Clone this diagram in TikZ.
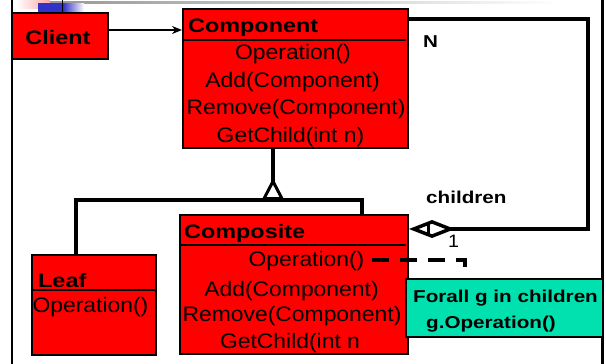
\documentclass[tikz,border=0pt]{standalone}
\usepackage{fontspec}
\setmainfont{Liberation Sans}
\newfontfamily\opfont[FakeStretch=1.09]{Liberation Sans}
\newfontfamily\namefont[FakeStretch=1.2]{Liberation Sans}
\usepackage{xcolor}
\usepackage{tikz}
\usetikzlibrary{arrows.meta}

\definecolor{classred}{RGB}{255,0,0}
\definecolor{notegreen}{RGB}{0,225,175}
\definecolor{barblue}{RGB}{50,50,200}

\begin{document}
\begin{tikzpicture}[x=1pt,y=-1pt,
  classbox/.style={draw,line width=2pt,fill=classred,inner sep=0pt},
  classname/.style={anchor=base west,inner sep=0pt,font=\namefont\bfseries\fontsize{19.5}{22}\selectfont},
  op/.style={anchor=base,inner sep=0pt,font=\opfont\fontsize{21}{24}\selectfont},
  tag/.style={anchor=base west,inner sep=0pt,font=\namefont\bfseries\fontsize{17.2}{20}\selectfont},
  link/.style={line width=4pt},
  divider/.style={line width=2pt}]
  \useasboundingbox (0,0) rectangle (606,364);

  % slide frame and title strip
  \shade[left color=gray!85,right color=white] (32,1) rectangle (560,3.5);
  \shade[left color=white,right color=red!35] (16,0) rectangle (50,8);
  \fill[barblue] (38,3) rectangle (62,12);
  \shade[left color=barblue,right color=white] (63,3) rectangle (84,12);
  \draw[line width=1.5pt] (62.5,0) -- (62.5,13);
  \draw[line width=2.5pt] (12,0) -- (12,364);
  \draw[line width=2.5pt] (602.5,0) -- (602.5,364);

  % classes
  \node[classbox,minimum width=96pt,minimum height=46pt] (client) at (60,36) {};
  \node[classname,anchor=base] (clientname) at (58,44) {Client};

  \node[classbox,minimum width=225pt,minimum height=139pt] (component) at (295.5,78.5) {};
  \draw[divider] (component.west |- 0,40) -- ([xshift=-3pt]component.east |- 0,40);
  \node[classname] (componentname) at (188,32) {Component};
  \node[op] (cop1) at (293,59) {Operation()};
  \node[op] (cop2) at (292.5,87) {Add(Component)};
  \node[op] (cop3) at (296,114.5) {Remove(Component)};
  \node[op] (cop4) at (290.5,142) {GetChild(int n)};

  \node[classbox,minimum width=124pt,minimum height=100pt] (leaf) at (94,305) {};
  \draw[divider] (leaf.west |- 0,290) -- ([xshift=-2pt]leaf.east |- 0,290);
  \node[classname] (leafname) at (38,287) {Leaf};
  \node[op] (lop1) at (90.5,312) {Operation()};

  \node[classbox,minimum width=228pt,minimum height=139pt] (composite) at (294,284.5) {};
  \draw[divider] (composite.west |- 0,245) -- ([xshift=-3pt]composite.east |- 0,245);
  \node[classname] (compositename) at (184,238) {Composite};
  \node[op] (mop1) at (306.5,266.5) {Operation()};
  \node[op] (mop2) at (291.5,296.5) {Add(Component)};
  \node[op] (mop3) at (292,321.5) {Remove(Component)};
  \node[op] (mop4) at (290,348) {GetChild(int n};

  % note
  \node[draw,line width=1.5pt,fill=notegreen,minimum width=197pt,minimum height=58pt,inner sep=0pt] (note) at (504.5,308) {};
  \node[tag] (note1) at (413,302) {Forall g in children};
  \node[tag,anchor=base] (note2) at (491,328) {g.Operation()};

  % connectors
  \draw[-{Stealth[length=10pt,width=8pt]},line width=2pt] (client.east |- 0,30) -- (component.west |- 0,30);

  \coordinate (bus) at (273,200);
  \draw[link,-{Triangle[open,reversed,length=22pt,width=22pt,line width=3pt]}] (component.south -| bus) -- (bus);
  \draw[link] (leaf.north -| 76,0) |- (bus) -| (composite.north -| 362,0);

  \coordinate (aggend) at (composite.east |- 0,229);
  \draw[link,{Diamond[open,length=46pt,width=18pt,line width=3.5pt]}-] (aggend) -| (588,18.5) -- (component.east |- 0,18.5);
  \draw[line width=3pt] ([xshift=19pt]aggend) +(0,-7) -- +(0,7);
  \node[tag] (many) at (423,47) {N};
  \node[tag] (role) at (426,203) {children};
  \node[anchor=base west,inner sep=0pt,font=\opfont\fontsize{18}{20}\selectfont] (one) at (448,247) {1};

  \coordinate (noteend) at (465,268);
  \draw[link,dash pattern=on 17pt off 11pt] ([xshift=7pt]mop1.east |- 0,259.5) -| (noteend);
\end{tikzpicture}
\end{document}
